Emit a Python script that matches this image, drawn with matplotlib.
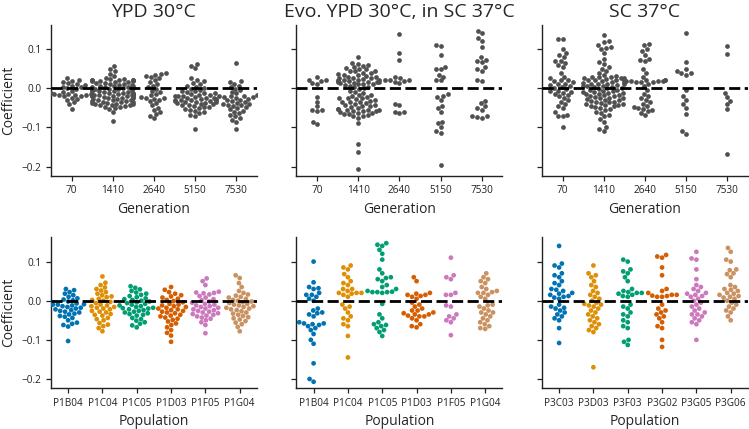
import warnings
warnings.filterwarnings("ignore")
import matplotlib
matplotlib.use("Agg")
import matplotlib.pyplot as plt
import seaborn as sns
import seaborn.categorical as sns_cat
import pandas as pd

# ---------------- data ----------------
generations = ["70", "1410", "2640", "5150", "7530"]
pops_p1 = ["P1B04", "P1C04", "P1C05", "P1D03", "P1F05", "P1G04"]
pops_p3 = ["P3C03", "P3D03", "P3F03", "P3G02", "P3G05", "P3G06"]
titles = ["YPD 30°C", "Evo. YPD 30°C, in SC 37°C", "SC 37°C"]

# YPD 30°C by generation
ypd_g70 = [0.025, 0.022, 0.019, 0.016, 0.013, 0.011, 0.008, 0.006, 0.004, 0.002, 0.0, -0.003, -0.006, -0.009,
           -0.011, -0.014, -0.015, -0.015, -0.016, -0.016, -0.017, -0.019, -0.021, -0.024, -0.027, -0.031,
           -0.036, -0.041, -0.052]
ypd_g1410 = [0.057, 0.049, 0.043, 0.037, 0.031, 0.027, 0.024, 0.023, 0.022, 0.021, 0.021, 0.02, 0.02, 0.019,
             0.019, 0.018, 0.017, 0.016, 0.014, 0.013, 0.012, 0.011, 0.009, 0.008, 0.007, 0.006, 0.005, 0.004,
             0.003, 0.002, 0.001, 0.0, -0.001, -0.002, -0.003, -0.004, -0.005, -0.006, -0.007, -0.008, -0.009,
             -0.01, -0.011, -0.012, -0.013, -0.014, -0.015, -0.015, -0.016, -0.016, -0.017, -0.017, -0.018,
             -0.018, -0.019, -0.019, -0.02, -0.02, -0.021, -0.022, -0.023, -0.024, -0.025, -0.026, -0.027,
             -0.028, -0.029, -0.03, -0.031, -0.032, -0.033, -0.034, -0.035, -0.036, -0.037, -0.038, -0.039,
             -0.04, -0.041, -0.042, -0.043, -0.044, -0.045, -0.047, -0.049, -0.051, -0.053, -0.061, -0.083]
ypd_g2640 = [0.038, 0.036, 0.034, 0.031, 0.028, 0.025, 0.021, 0.016, 0.011, 0.006, 0.002, -0.002, -0.006, -0.01,
             -0.014, -0.018, -0.022, -0.025, -0.026, -0.027, -0.029, -0.033, -0.038, -0.044, -0.05, -0.055,
             -0.061, -0.066, -0.07, -0.077]
ypd_g5150 = [0.063, 0.058, 0.052, 0.025, 0.022, 0.018, 0.014, 0.01, 0.007, 0.004, 0.001, -0.002, -0.004, -0.006,
             -0.008, -0.01, -0.012, -0.013, -0.015, -0.016, -0.018, -0.019, -0.02, -0.021, -0.022, -0.024,
             -0.025, -0.026, -0.027, -0.028, -0.029, -0.03, -0.03, -0.031, -0.032, -0.033, -0.034,
             -0.035, -0.036, -0.037, -0.038, -0.04, -0.041, -0.042, -0.044, -0.045, -0.047, -0.049, -0.051,
             -0.053, -0.055, -0.058, -0.061, -0.064, -0.068, -0.072, -0.103]
ypd_g7530 = [0.065, 0.018, 0.015, 0.011, 0.007, 0.003, -0.001, -0.005, -0.009, -0.013, -0.017, -0.019, -0.02,
             -0.021, -0.022, -0.023, -0.025, -0.027, -0.029, -0.031, -0.033, -0.035, -0.037, -0.039, -0.041,
             -0.043, -0.045, -0.048, -0.051, -0.054, -0.057, -0.06, -0.064, -0.068, -0.072, -0.077, -0.081,
             -0.086, -0.105, -0.044]

# Evo. YPD 30°C, in SC 37°C by generation
evo_g70 = [0.028, 0.022, 0.02, 0.019, 0.013, 0.011, -0.022, -0.034, -0.046, -0.055, -0.055, -0.058, -0.085, -0.092]
evo_g1410 = [0.08, 0.065, 0.063, 0.06, 0.058, 0.055, 0.053, 0.05, 0.048, 0.045, 0.043, 0.04, 0.038, 0.036, 0.034,
             0.032, 0.03, 0.028, 0.027, 0.025, 0.024, 0.022, 0.021, 0.02, 0.019, 0.018, 0.017, 0.016, 0.015,
             0.014, 0.013, 0.012, 0.011, 0.01, 0.008, 0.006, 0.004, 0.002, 0.0, -0.003, -0.006, -0.01, -0.013,
             -0.016, -0.018, -0.02, -0.022, -0.024, -0.026, -0.028, -0.03, -0.032, -0.034, -0.036, -0.038, -0.04,
             -0.042, -0.044, -0.046, -0.048, -0.05, -0.052, -0.054, -0.055, -0.056, -0.057, -0.058, -0.059, -0.06,
             -0.062, -0.064, -0.066, -0.068, -0.07, -0.072, -0.075, -0.09, -0.143, -0.162, -0.207, 0.035, 0.025,
             0.015, -0.025, -0.035, -0.045, -0.055, 0.045, 0.02, -0.065]
evo_g2640 = [0.138, 0.09, 0.072, 0.03, 0.025, 0.022, 0.02, 0.02, 0.018, 0.015, 0.013, -0.04, -0.042, -0.06, -0.062, -0.06]
evo_g5150 = [0.11, 0.107, 0.085, 0.055, 0.05, 0.048, 0.035, 0.03, 0.022, 0.02, -0.015, -0.02, -0.022, -0.03,
             -0.045, -0.05, -0.06, -0.085, -0.09, -0.1, -0.11, -0.115, -0.195]
evo_g7530 = [0.147, 0.14, 0.128, 0.12, 0.105, 0.08, 0.072, 0.07, 0.068, 0.055, 0.05, 0.045, 0.02, 0.018, -0.033,
             -0.038, -0.045, -0.05, -0.055, -0.07, -0.072, -0.075, -0.073]

# SC 37°C by generation
sc_g70 = [0.125, 0.125, 0.1, 0.09, 0.085, 0.08, 0.07, 0.07, 0.065, 0.06, 0.055, 0.04, 0.03, 0.025, 0.022, 0.02,
          0.018, 0.015, 0.012, 0.01, 0.008, 0.005, 0.003, 0.0, -0.003, -0.006, -0.008, -0.01, -0.012, -0.015,
          -0.018, -0.02, -0.025, -0.03, -0.035, -0.04, -0.045, -0.05, -0.06, -0.07, -0.068, -0.07, -0.098]
sc_g1410 = [0.135, 0.12, 0.118, 0.11, 0.106, 0.103, 0.1, 0.09, 0.075, 0.068, 0.062, 0.055, 0.05, 0.045, 0.04,
            0.035, 0.032, 0.03, 0.028, 0.026, 0.024, 0.022, 0.02, 0.018, 0.016, 0.014, 0.012, 0.01, 0.008, 0.006,
            0.004, 0.002, 0.0, -0.002, -0.004, -0.006, -0.008, -0.01, -0.012, -0.014, -0.016, -0.018, -0.02,
            -0.022, -0.024, -0.026, -0.028, -0.03, -0.032, -0.034, -0.036, -0.038, -0.04, -0.042, -0.044, -0.046,
            -0.048, -0.05, -0.053, -0.056, -0.06, -0.063, -0.068, -0.072, -0.078, -0.085, -0.1, -0.105, -0.11,
            0.025, 0.015, 0.005, -0.005, -0.015, -0.025, 0.02, 0.01, 0.0, -0.01, -0.02, -0.03, -0.04, 0.03,
            -0.035, 0.012, -0.012, 0.007, -0.045]
sc_g2640 = [0.113, 0.11, 0.1, 0.095, 0.085, 0.075, 0.072, 0.07, 0.05, 0.04, 0.03, 0.025, 0.022, 0.021, 0.02, 0.02,
            0.019, 0.019, 0.018, 0.018, 0.017, 0.016, 0.015, 0.01, 0.005, -0.005, -0.015, -0.02, -0.025, -0.03,
            -0.035, -0.04, -0.045, -0.048, -0.05, -0.052, -0.055, -0.058, -0.062, -0.068]
sc_g5150 = [0.14, 0.068, 0.05, 0.045, 0.04, 0.038, 0.035, -0.005, -0.02, -0.03, -0.04, -0.05, -0.065, -0.11, -0.118]
sc_g7530 = [0.108, 0.087, -0.012, -0.022, -0.032, -0.04, -0.052, -0.168]

# YPD 30°C by population
ypd_P1B04 = [0.03, 0.027, 0.022, 0.018, 0.014, 0.01, 0.006, 0.003, 0.001, -0.002, -0.005, -0.007, -0.009, -0.01,
             -0.01, -0.012, -0.014, -0.016, -0.018, -0.02, -0.022, -0.024, -0.026, -0.028, -0.03,
             -0.033, -0.035, -0.039, -0.041, -0.044, -0.05, -0.056, -0.059, -0.062, -0.066, -0.103]
ypd_P1C04 = [0.062, 0.046, 0.04, 0.034, 0.03, 0.026, 0.022, 0.018, 0.014, 0.011, 0.009, 0.005, 0.002, 0.0,
             -0.003, -0.006, -0.01, -0.012, -0.014, -0.016, -0.018, -0.02, -0.022, -0.026, -0.028,
             -0.03, -0.034, -0.036, -0.038, -0.044, -0.047, -0.05, -0.057, -0.061, -0.065, -0.07, -0.078]
ypd_P1C05 = [0.037, 0.033, 0.029, 0.025, 0.021, 0.018, 0.015, 0.012, 0.009, 0.006, 0.004, 0.002, 0.0, -0.002,
             -0.004, -0.006, -0.008, -0.01, -0.012, -0.014, -0.016, -0.018, -0.019, -0.02,
             -0.022, -0.024, -0.026, -0.028, -0.03, -0.032, -0.034, -0.036, -0.038, -0.044, -0.047,
             -0.051, -0.055, -0.059, -0.063, -0.068]
ypd_P1D03 = [0.035, 0.028, 0.022, 0.018, 0.014, 0.011, 0.008, 0.005, 0.002, -0.001, -0.004, -0.008, -0.01,
             -0.012, -0.014, -0.016, -0.018, -0.02, -0.022, -0.024, -0.026, -0.028, -0.03, -0.032, -0.036,
             -0.038, -0.04, -0.043, -0.046, -0.049, -0.053, -0.058, -0.062, -0.068, -0.075, -0.082, -0.089,
             -0.105]
ypd_P1F05 = [0.057, 0.05, 0.04, 0.023, 0.021, 0.02, 0.019, 0.016, 0.012, 0.008, 0.004, 0.001, -0.002, -0.005,
             -0.008, -0.01, -0.012, -0.014, -0.016, -0.018, -0.02, -0.022, -0.024, -0.026, -0.028, -0.03, -0.032,
             -0.034, -0.036, -0.038, -0.04, -0.043, -0.046, -0.05, -0.055, -0.062, -0.083]
ypd_P1G04 = [0.065, 0.058, 0.045, 0.035, 0.025, 0.02, 0.016, 0.013, 0.01, 0.008, 0.005, 0.002, 0.0, -0.002, -0.004,
             -0.006, -0.008, -0.01, -0.012, -0.014, -0.016, -0.018, -0.02, -0.022, -0.024, -0.027, -0.03, -0.033,
             -0.036, -0.039, -0.042, -0.045, -0.048, -0.052, -0.056, -0.06, -0.067, -0.078]

# Evo. YPD 30°C, in SC 37°C by population
evo_P1B04 = [0.1, 0.047, 0.035, 0.03, 0.032, 0.02, 0.015, 0.015, 0.01, 0.005, 0.0, -0.02, -0.025, -0.03, -0.032,
             -0.035, -0.04, -0.055, -0.058, -0.058, -0.06, -0.062, -0.065, -0.07, -0.075, -0.085, -0.1, -0.11,
             -0.16, -0.2, -0.207]
evo_P1C04 = [0.09, 0.085, 0.08, 0.068, 0.06, 0.05, 0.045, 0.04, 0.03, 0.03, 0.025, 0.02, 0.02, 0.02, 0.018, 0.015,
             0.01, -0.01, -0.015, -0.02, -0.03, -0.04, -0.045, -0.05, -0.06, -0.065, -0.09, -0.145]
evo_P1C05 = [0.147, 0.143, 0.14, 0.13, 0.12, 0.105, 0.08, 0.07, 0.06, 0.058, 0.055, 0.05, 0.04, 0.035, 0.03, 0.025,
             0.023, 0.022, 0.022, 0.022, 0.02, -0.008, -0.035, -0.045, -0.055, -0.06, -0.062, -0.065, -0.07,
             -0.075, -0.08, -0.09]
evo_P1D03 = [0.06, 0.05, 0.02, 0.018, 0.015, 0.015, 0.012, 0.01, 0.005, -0.005, -0.01, -0.015, -0.02, -0.025,
             -0.025, -0.03, -0.032, -0.035, -0.035, -0.038, -0.04, -0.04, -0.045, -0.05, -0.06, -0.065, -0.068]
evo_P1F05 = [0.11, 0.065, 0.06, 0.055, 0.02, 0.015, 0.015, -0.012, -0.015, -0.035, -0.04, -0.045, -0.05, -0.055,
             -0.088]
evo_P1G04 = [0.07, 0.06, 0.055, 0.05, 0.045, 0.035, 0.03, 0.025, 0.022, 0.02, 0.02, 0.015, 0.01, 0.005, -0.01,
             -0.012, -0.015, -0.02, -0.025, -0.03, -0.03, -0.035, -0.04, -0.045, -0.05, -0.055, -0.06, -0.065,
             -0.07, -0.072]

# SC 37°C by population
sc_P3C03 = [0.14, 0.095, 0.09, 0.085, 0.07, 0.065, 0.06, 0.05, 0.045, 0.04, 0.03, 0.028, 0.025, 0.02, 0.018,
            0.015, 0.012, 0.01, 0.008, 0.005, -0.01, -0.015, -0.018, -0.02, -0.025, -0.03, -0.035, -0.04, -0.045,
            -0.05, -0.07, -0.108]
sc_P3D03 = [0.09, 0.07, 0.065, 0.06, 0.05, 0.04, 0.035, 0.025, 0.02, 0.015, 0.01, 0.005, 0.0, -0.005, -0.008,
            -0.01, -0.012, -0.015, -0.02, -0.025, -0.03, -0.035, -0.04, -0.045, -0.05, -0.055, -0.06, -0.065,
            -0.07, -0.075, -0.08, -0.17]
sc_P3F03 = [0.105, 0.1, 0.08, 0.075, 0.07, 0.06, 0.05, 0.03, 0.025, 0.022, 0.02, 0.02, 0.018, 0.015, 0.012, 0.01,
            -0.01, -0.015, -0.02, -0.03, -0.035, -0.04, -0.05, -0.055, -0.065, -0.07, -0.1, -0.105, -0.113]
sc_P3G02 = [0.117, 0.113, 0.11, 0.085, 0.065, 0.03, 0.025, 0.02, 0.015, 0.015, 0.013, 0.012, 0.01, 0.01, -0.01,
            -0.02, -0.025, -0.03, -0.035, -0.04, -0.045, -0.055, -0.065, -0.07, -0.1, -0.118]
sc_P3G05 = [0.125, 0.108, 0.105, 0.08, 0.055, 0.04, 0.035, 0.03, 0.025, 0.02, 0.018, 0.015, 0.012, 0.01, 0.005,
            0.0, -0.005, -0.01, -0.015, -0.02, -0.025, -0.03, -0.035, -0.035, -0.04, -0.045, -0.05, -0.055, -0.06,
            -0.1]
sc_P3G06 = [0.135, 0.125, 0.105, 0.1, 0.08, 0.078, 0.07, 0.068, 0.06, 0.04, 0.035, 0.03, 0.028, 0.025, 0.02, 0.018,
            0.015, 0.012, 0.01, 0.008, 0.005, 0.0, -0.005, -0.01, -0.015, -0.02, -0.025, -0.03, -0.04, -0.05]

top_data = [
    [ypd_g70, ypd_g1410, ypd_g2640, ypd_g5150, ypd_g7530],
    [evo_g70, evo_g1410, evo_g2640, evo_g5150, evo_g7530],
    [sc_g70, sc_g1410, sc_g2640, sc_g5150, sc_g7530],
]
bottom_data = [
    ([ypd_P1B04, ypd_P1C04, ypd_P1C05, ypd_P1D03, ypd_P1F05, ypd_P1G04], pops_p1),
    ([evo_P1B04, evo_P1C04, evo_P1C05, evo_P1D03, evo_P1F05, evo_P1G04], pops_p1),
    ([sc_P3C03, sc_P3D03, sc_P3F03, sc_P3G02, sc_P3G05, sc_P3G06], pops_p3),
]


def to_frame(groups, labels, key):
    rows = []
    for lab, vals in zip(labels, groups):
        for v in vals:
            rows.append({key: lab, "Coefficient": v})
    return pd.DataFrame(rows)


# allow swarms to spread a little wider than the default 0.8 category width
_BaseBeeswarm = sns_cat.Beeswarm


class WideBeeswarm(_BaseBeeswarm):
    def __init__(self, *args, **kwargs):
        super().__init__(*args, **kwargs)
        self.width = self.width * 1.25


sns_cat.Beeswarm = WideBeeswarm

sns.set_theme(style="ticks")
plt.rcParams["font.family"] = ["Open Sans", "DejaVu Sans"]
plt.rcParams["axes.edgecolor"] = "#222222"
plt.rcParams["xtick.color"] = "#222222"
plt.rcParams["ytick.color"] = "#222222"

fig, axes = plt.subplots(2, 3, figsize=(7.49, 4.29), dpi=100, sharey=True)
fig.subplots_adjust(left=0.068, right=0.9985, top=0.942, bottom=0.0956, wspace=0.192, hspace=0.41)

palette = sns.color_palette("colorblind", 6)
pt_size = 3.4
gray = "#505050"
dash = (0, (4, 1.6))

for j in range(3):
    ax = axes[0, j]
    df = to_frame(top_data[j], generations, "Generation")
    sns.swarmplot(data=df, x="Generation", y="Coefficient", order=generations,
                  color=gray, size=pt_size, ax=ax)
    ax.axhline(0, color="black", ls=dash, lw=2, zorder=5)
    ax.set_title(titles[j], fontsize=14, pad=6)
    ax.set_xlabel("Generation", fontsize=10)

    ax2 = axes[1, j]
    groups, labels = bottom_data[j]
    df2 = to_frame(groups, labels, "Population")
    sns.swarmplot(data=df2, x="Population", y="Coefficient", order=labels, hue="Population",
                  hue_order=labels, palette=palette, size=pt_size, ax=ax2, legend=False)
    ax2.axhline(0, color="black", ls=dash, lw=2, zorder=5)
    ax2.set_xlabel("Population", fontsize=10)

for ax in axes.flat:
    ax.set_ylim(-0.223, 0.162)
    ax.set_yticks([-0.2, -0.1, 0.0, 0.1])
    ax.tick_params(labelsize=7.2, length=3.5, width=0.9)
    for s in ("left", "bottom"):
        ax.spines[s].set_linewidth(1.0)
    sns.despine(ax=ax)
    ax.set_ylabel("")

for i in range(2):
    axes[i, 0].set_ylabel("Coefficient", fontsize=10)
    axes[i, 0].set_yticklabels(["−0.2", "−0.1", "0.0", "0.1"])

fig.savefig("out.png", dpi=100)
